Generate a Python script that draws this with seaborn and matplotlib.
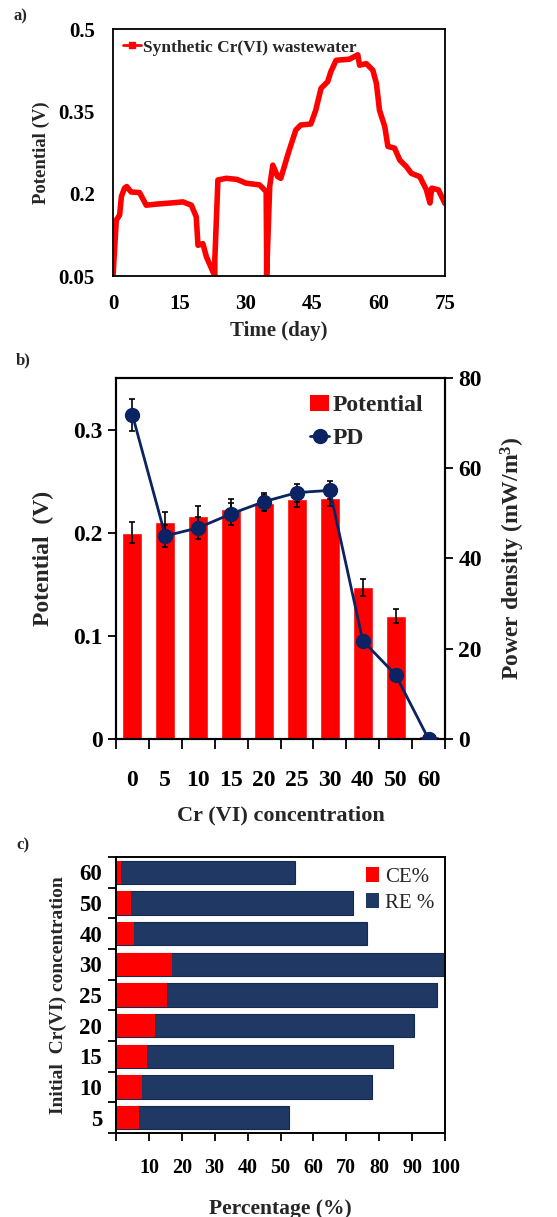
import numpy as np
import pandas as pd
import matplotlib
matplotlib.use("Agg")
import matplotlib.pyplot as plt
from matplotlib.patches import Patch
from matplotlib.lines import Line2D
import seaborn as sns

sns.set_theme(style="white")
plt.rcParams['font.family'] = ['Liberation Serif', 'DejaVu Serif']
plt.rcParams['font.weight'] = 'bold'
plt.rcParams['axes.labelweight'] = 'bold'
plt.rcParams['mathtext.default'] = 'regular'

# ---------------- data ----------------
# Panel a: potential vs time
time_day = [0, 0.75, 1.5, 1.9, 2.6, 3.1, 4.1, 6.0, 7.5, 9.8, 13.0, 15.8, 17.7, 18.8, 19.2, 20.3, 21.1, 23.0,
            23.0, 23.7, 25.6, 28.0, 30.1, 33.1, 34.6, 34.7, 34.7,
            35.4, 36.1, 37.2, 37.9, 39.8, 41.3, 42.4, 44.7, 45.8, 47.0, 48.5, 49.2, 50.4, 53.4, 55.3, 55.7,
            57.2, 58.7, 59.5, 60.2, 61.4, 62.1, 63.6, 64.8, 66.3, 67.4, 69.3, 70.8, 71.6, 72.0, 73.5, 75.0]
potential_v = [0.05, 0.152, 0.161, 0.195, 0.21, 0.213, 0.203, 0.202, 0.179, 0.181, 0.183, 0.185, 0.179, 0.158,
               0.106, 0.109, 0.085, 0.05,
               0.079, 0.225, 0.228, 0.226, 0.219, 0.216, 0.204, 0.091, 0.05,
               0.213, 0.252, 0.231, 0.228, 0.279, 0.316, 0.325, 0.327, 0.352, 0.392, 0.404, 0.422, 0.443,
               0.445, 0.453, 0.434, 0.437, 0.425, 0.401, 0.352, 0.322, 0.286, 0.283, 0.261, 0.249, 0.237,
               0.231, 0.207, 0.183, 0.21, 0.207, 0.182]

# Panel b
cr_conc = ['0', '5', '10', '15', '20', '25', '30', '40', '50', '60']
bar_potential = [0.200, 0.210, 0.216, 0.223, 0.229, 0.233, 0.234, 0.147, 0.119, 0.003]
bar_potential_err = [0.010, 0.010, 0.010, 0.010, 0.008, 0.008, 0.008, 0.008, 0.007, 0.0]
power_density = [71.8, 45.0, 46.8, 49.9, 52.6, 54.6, 55.1, 21.8, 14.2, 0.0]
power_density_err = [3.6, 2.5, 2.5, 2.5, 2.0, 2.0, 2.0, 0.0, 0.0, 0.0]

# Panel c
init_conc = ['60', '50', '40', '30', '25', '20', '15', '10', '5']
ce_pct = [1.5, 4.6, 5.4, 16.9, 15.6, 11.8, 9.3, 8.0, 7.1]
re_pct = [54.5, 72.1, 76.2, 100.0, 97.6, 90.7, 84.3, 77.9, 52.7]

RED = '#ff0000'
NAVY_B = '#0b2363'
NAVY_C = '#1f3864'

W, H = 557, 1217
fig = plt.figure(figsize=(W / 100, H / 100), dpi=100)


def rect(l, t, r, b):
    return [l / W, 1 - b / H, (r - l) / W, (b - t) / H]


# ---------------- panel a ----------------
ax_a = fig.add_axes(rect(113, 29, 445, 276))
df_a = pd.DataFrame({'t': time_day, 'v': potential_v})
sns.lineplot(data=df_a, x='t', y='v', sort=False, estimator=None, color=RED, lw=4, ax=ax_a)
ax_a.set_xlim(0, 75)
ax_a.set_ylim(0.05, 0.5)
ax_a.set_xticks([0, 15, 30, 45, 60, 75])
ax_a.set_yticks([0.05, 0.2, 0.35, 0.5])
ax_a.set_yticklabels(['0.05', '0.2', '0.35', '0.5'])
ax_a.tick_params(direction='in', length=5, width=1.2, labelsize=15, colors='black')
ax_a.tick_params(axis='y', pad=13)
ax_a.tick_params(axis='x', pad=13)
for lab in ax_a.get_xticklabels() + ax_a.get_yticklabels():
    lab.set_fontweight('bold')
ax_a.set_xlabel('Time (day)', fontsize=15, fontweight='bold', labelpad=5)
ax_a.set_ylabel('Potential (V)', fontsize=13.5, fontweight='bold', labelpad=6)
for s in ax_a.spines.values():
    s.set_color('black'); s.set_linewidth(1.3)
h = Line2D([], [], color=RED, lw=2, marker='s', ms=4)
ax_a.legend([h], ['Synthetic Cr(VI) wastewater'], loc='upper left', frameon=False,
            prop={'weight': 'bold', 'size': 12.5}, handlelength=1.0, handletextpad=0.1,
            borderaxespad=0.2, bbox_to_anchor=(0.0, 1.0))

# ---------------- panel b ----------------
ax_b = fig.add_axes(rect(116, 378, 445, 739))
df_b = pd.DataFrame({'conc': cr_conc, 'pot': bar_potential})
sns.barplot(data=df_b, x='conc', y='pot', order=cr_conc, color=RED, saturation=1,
            width=0.61, errorbar=None, ax=ax_b)
xpos = np.arange(len(cr_conc))
ax_b.errorbar(xpos, bar_potential, yerr=bar_potential_err, fmt='none', ecolor='black',
              elinewidth=1.2, capsize=2, capthick=1.2)
ax_b.set_ylim(0, 0.35)
ax_b.set_xlim(-0.5, 9.5)
ax_b.set_yticks([0, 0.1, 0.2, 0.3])
ax_b.set_yticklabels(['0', '0.1', '0.2', '0.3'])
ax_b.set_xticks(xpos)
ax_b.set_xticklabels(cr_conc)
ax_b.set_xticks(np.arange(-0.5, 10, 1), minor=True)
ax_b.tick_params(axis='x', which='major', length=0, labelsize=17, pad=22, colors='black')
ax_b.tick_params(axis='x', which='minor', length=7, width=1.3, direction='out', bottom=True, colors='black')
ax_b.tick_params(axis='y', direction='out', length=6, width=1.3, labelsize=17, left=True, colors='black')
for lab in ax_b.get_xticklabels() + ax_b.get_yticklabels():
    lab.set_fontweight('bold')
ax_b.set_xlabel('Cr (VI) concentration', fontsize=16, fontweight='bold', labelpad=11)
ax_b.set_ylabel('Potential  (V)', fontsize=17, fontweight='bold', labelpad=14)

ax_b2 = ax_b.twinx()
ax_b2.errorbar(xpos, power_density, yerr=power_density_err, fmt='none', ecolor='black',
               elinewidth=1.2, capsize=2, capthick=1.2, zorder=2)
ax_b2.plot(xpos, power_density, color=NAVY_B, lw=2, marker='o', ms=10, zorder=3)
ax_b2.set_ylim(0, 80)
ax_b2.set_yticks([0, 20, 40, 60, 80])
ax_b2.tick_params(axis='y', direction='out', length=6, width=1.3, labelsize=17, right=True, colors='black')
for lab in ax_b2.get_yticklabels():
    lab.set_fontweight('bold')
ax_b2.set_ylabel('Power density (mW/m$^{3}$)', fontsize=17, fontweight='bold', labelpad=12)
ax_b2.grid(False)
for ax in (ax_b, ax_b2):
    for s in ax.spines.values():
        s.set_color('black'); s.set_linewidth(1.5)
hb = [Patch(facecolor=RED, edgecolor='none'),
      Line2D([], [], color=NAVY_B, lw=2, marker='o', ms=10)]
ax_b2.legend(hb, ['Potential', 'PD'], loc='upper right', frameon=False,
             prop={'weight': 'bold', 'size': 17}, handlelength=0.8, handletextpad=0.15,
             labelspacing=0.5, bbox_to_anchor=(0.985, 1.0), borderaxespad=0.3)

# ---------------- panel c ----------------
ax_c = fig.add_axes(rect(116, 857, 445, 1133))
df_c = pd.DataFrame({'conc': init_conc, 'ce': ce_pct, 're': re_pct})
sns.barplot(data=df_c, y='conc', x='re', order=init_conc, orient='h', color=NAVY_C,
            saturation=1, width=0.76, errorbar=None, edgecolor='#152a50', linewidth=0.8, ax=ax_c)
sns.barplot(data=df_c, y='conc', x='ce', order=init_conc, orient='h', color=RED,
            saturation=1, width=0.76, errorbar=None, linewidth=0, ax=ax_c)
ax_c.set_xlim(0, 100)
ax_c.set_ylim(len(init_conc) - 0.5, -0.5)
ax_c.set_xticks(np.arange(0, 101, 10))
ax_c.set_xticklabels([''] + [str(v) for v in range(10, 101, 10)])
ax_c.set_yticks(np.arange(-0.5, len(init_conc), 1), minor=True)
ax_c.tick_params(axis='x', direction='out', length=6, width=1.3, labelsize=14.5, pad=12,
                 bottom=True, colors='black')
ax_c.tick_params(axis='y', which='major', length=0, labelsize=16.5, pad=10, colors='black')
ax_c.tick_params(axis='y', which='minor', direction='out', length=6, width=1.3, left=True, colors='black')
for lab in ax_c.get_xticklabels() + ax_c.get_yticklabels():
    lab.set_fontweight('bold')
ax_c.set_xlabel('Percentage (%)', fontsize=15.5, fontweight='bold', labelpad=15)
ax_c.set_ylabel('Initial  Cr(VI) concentration', fontsize=14, fontweight='bold', labelpad=9)
for s in ax_c.spines.values():
    s.set_color('black'); s.set_linewidth(1.4)
hc = [Patch(facecolor=RED, edgecolor='none'), Patch(facecolor=NAVY_C, edgecolor='none')]
ax_c.legend(hc, ['CE%', 'RE %'], loc='upper right', frameon=False,
            prop={'weight': 'normal', 'size': 15}, handlelength=0.6, handleheight=0.7,
            handletextpad=0.3, labelspacing=0.3, borderaxespad=0.1, bbox_to_anchor=(1.0, 1.0))

# panel labels
fig.text(13 / W, 1 - 16 / H, 'a)', fontsize=12, fontweight='bold', va='center', ha='left')
fig.text(16 / W, 1 - 360 / H, 'b)', fontsize=12, fontweight='bold', va='center', ha='left')
fig.text(16 / W, 1 - 845 / H, 'c)', fontsize=12, fontweight='bold', va='center', ha='left')

fig.savefig('out.png', dpi=100, facecolor='white')
